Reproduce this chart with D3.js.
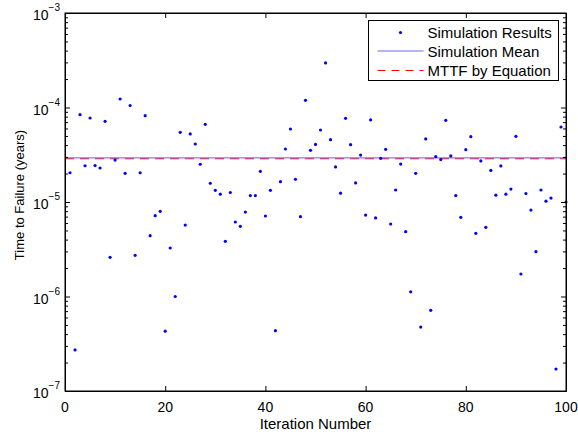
<!DOCTYPE html>
<meta charset="utf-8">
<script src="https://cdn.jsdelivr.net/npm/d3@7/dist/d3.min.js"></script>
<style>
  body { margin: 0; background: #fff; }
  svg { display: block; font-family: "Liberation Sans", Arial, sans-serif; }
  .axis path, .axis line { stroke: #000; }
</style>
<body>
<script>
"use strict"

// time to failure per iteration (years)
var iterations = d3.range(1, 101)
var failTimes = [
  2.04e-5, 2.72e-7, 8.4e-5, 2.42e-5, 7.74e-5, 2.43e-5, 2.29e-5, 7.14e-5, 2.6e-6, 2.78e-5,
  1.23e-4, 2.01e-5, 1.05e-4, 2.73e-6, 2.04e-5, 8.2e-5, 4.4e-6, 7.16e-6, 7.96e-6, 4.3e-7,
  3.26e-6, 1.0e-6, 5.46e-5, 5.7e-6, 5.25e-5, 4.11e-5, 2.51e-5, 6.64e-5, 1.58e-5, 1.33e-5,
  1.21e-5, 3.84e-6, 1.26e-5, 6.14e-6, 5.53e-6, 7.83e-6, 1.17e-5, 1.17e-5, 2.11e-5, 7.11e-6,
  1.33e-5, 4.35e-7, 1.64e-5, 3.64e-5, 5.92e-5, 1.74e-5, 7.0e-6, 1.19e-4, 3.52e-5, 4.07e-5,
  5.78e-5, 2.96e-4, 4.57e-5, 2.35e-5, 1.24e-5, 7.68e-5, 4.04e-5, 1.59e-5, 3.14e-5, 7.28e-6,
  7.38e-5, 6.78e-6, 2.9e-5, 3.61e-5, 5.85e-6, 1.34e-5, 2.52e-5, 4.85e-6, 1.12e-6, 2.01e-5,
  4.75e-7, 4.65e-5, 7.14e-7, 3.02e-5, 2.81e-5, 7.32e-5, 3.07e-5, 1.17e-5, 6.89e-6, 3.58e-5,
  4.91e-5, 4.66e-6, 2.72e-5, 5.4e-6, 2.16e-5, 1.18e-5, 2.41e-5, 1.21e-5, 1.37e-5, 4.96e-5,
  1.73e-6, 1.23e-5, 8.22e-6, 2.98e-6, 1.34e-5, 1.02e-5, 1.1e-5, 1.71e-7, 6.22e-5, 1.0e-5
]
var simMean = 2.93e-5
var mttfEq = 2.87e-5

var xTicks = [0, 20, 40, 60, 80, 100]
var yTicks = [1e-7, 1e-6, 1e-5, 1e-4, 1e-3]
var legendLabels = ["Simulation Results", "Simulation Mean", "MTTF by Equation"]

var W = 578, H = 434
var margin = {top: 13, right: 12, bottom: 43, left: 65}
var width = W - margin.left - margin.right,
    height = H - margin.top - margin.bottom

var svg = d3.select("body").append("svg")
    .attr("width", W)
    .attr("height", H)

var g = svg.append("g")
    .attr("transform", "translate(" + margin.left + "," + margin.top + ")")

var x = d3.scaleLinear().domain([0, 100]).range([0, width])
var y = d3.scaleLog().domain([1e-7, 1e-3]).range([height, 0])

// minor ticks for the log axis
var minor = []
for (var e = -7; e < -3; e++) {
  for (var m = 2; m <= 9; m++) minor.push(m * Math.pow(10, e))
}

// reference lines
g.append("line")
    .attr("x1", x(0)).attr("x2", x(100))
    .attr("y1", y(mttfEq)).attr("y2", y(mttfEq))
    .attr("stroke", "#ff0000").attr("stroke-width", 1.2)
    .attr("stroke-dasharray", "9,6")
g.append("line")
    .attr("x1", x(0)).attr("x2", x(100))
    .attr("y1", y(simMean)).attr("y2", y(simMean))
    .attr("stroke", "#5a5aff").attr("stroke-width", 1)

// points
g.selectAll("circle.pt")
    .data(failTimes)
  .enter().append("circle")
    .attr("class", "pt")
    .attr("cx", function(d, i) { return x(iterations[i]) })
    .attr("cy", function(d) { return y(d) })
    .attr("r", 1.6)
    .attr("fill", "#0000ff")

// axes, ticks pointing inwards like matlab
var fmt = function() { return "" }
g.append("g").attr("class", "axis")
    .attr("transform", "translate(0," + height + ")")
    .call(d3.axisBottom(x).tickValues(xTicks).tickSizeInner(-5).tickSizeOuter(0).tickFormat(fmt))
g.append("g").attr("class", "axis")
    .call(d3.axisTop(x).tickValues(xTicks).tickSizeInner(-5).tickSizeOuter(0).tickFormat(fmt))
g.append("g").attr("class", "axis")
    .call(d3.axisLeft(y).tickValues(yTicks).tickSizeInner(-5).tickSizeOuter(0).tickFormat(fmt))
g.append("g").attr("class", "axis")
    .call(d3.axisLeft(y).tickValues(minor).tickSizeInner(-3).tickSizeOuter(0).tickFormat(fmt))
g.append("g").attr("class", "axis")
    .attr("transform", "translate(" + width + ",0)")
    .call(d3.axisRight(y).tickValues(yTicks).tickSizeInner(-5).tickSizeOuter(0).tickFormat(fmt))
g.append("g").attr("class", "axis")
    .attr("transform", "translate(" + width + ",0)")
    .call(d3.axisRight(y).tickValues(minor).tickSizeInner(-3).tickSizeOuter(0).tickFormat(fmt))

// frame
g.append("rect").attr("width", width).attr("height", height)
    .attr("fill", "none").attr("stroke", "#000").attr("stroke-width", 1)

// x tick labels
g.selectAll("text.xt")
    .data(xTicks)
  .enter().append("text")
    .attr("class", "xt")
    .attr("x", function(d) { return x(d) })
    .attr("y", height + 20.5)
    .attr("text-anchor", "middle")
    .attr("font-size", 14)
    .text(function(d) { return d })

// y tick labels 10^n
yTicks.forEach(function(v) {
  var t = g.append("text")
      .attr("x", -5).attr("y", y(v) + 7)
      .attr("text-anchor", "end")
      .attr("font-size", 14)
  t.append("tspan").text("10")
  t.append("tspan").attr("dy", -9).attr("font-size", 10)
      .text("\u2212" + Math.round(-Math.log10(v)))
})

// axis titles
svg.append("text")
    .attr("x", margin.left + width / 2).attr("y", 429)
    .attr("text-anchor", "middle").attr("font-size", 15)
    .text("Iteration Number")
svg.append("text")
    .attr("transform", "translate(24,195) rotate(-90)")
    .attr("text-anchor", "middle").attr("font-size", 13)
    .text("Time to Failure (years)")

// legend
var lg = svg.append("g").attr("transform", "translate(368.5,20.5)")
lg.append("rect").attr("width", 190).attr("height", 60)
    .attr("fill", "#fff").attr("stroke", "#000").attr("stroke-width", 1)
var rows = [12, 31, 50]
lg.append("circle").attr("cx", 32).attr("cy", rows[0]).attr("r", 1.6).attr("fill", "#0000ff")
lg.append("line").attr("x1", 9).attr("x2", 55).attr("y1", rows[1] - 0.5).attr("y2", rows[1] - 0.5)
    .attr("stroke", "#6a6aff").attr("stroke-width", 1.2)
lg.append("line").attr("x1", 9).attr("x2", 55).attr("y1", rows[2]).attr("y2", rows[2])
    .attr("stroke", "#ff0000").attr("stroke-dasharray", "8,6")
lg.selectAll("text.lab")
    .data(legendLabels)
  .enter().append("text")
    .attr("class", "lab")
    .attr("x", 59)
    .attr("y", function(d, i) { return rows[i] + 5.5 })
    .attr("font-size", 15)
    .text(function(d) { return d })
</script>
